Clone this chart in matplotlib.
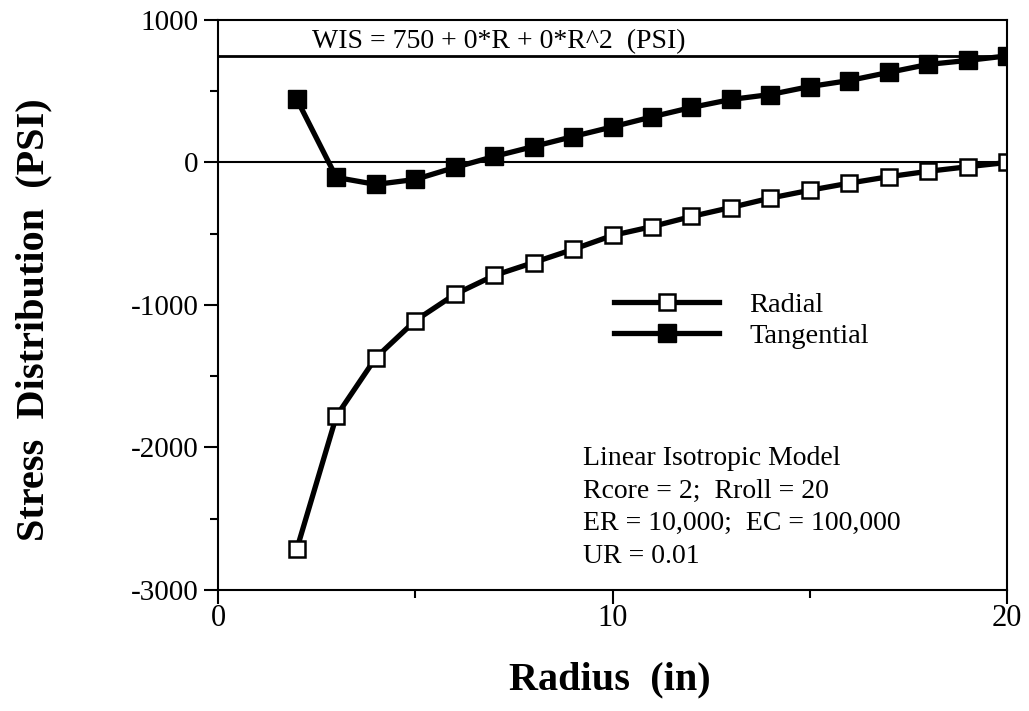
import numpy as np
import matplotlib
matplotlib.use("Agg")
import matplotlib.pyplot as plt
from matplotlib.ticker import MultipleLocator

plt.rcParams["font.family"] = ["Liberation Serif", "DejaVu Serif"]
plt.rcParams["axes.unicode_minus"] = False

radius = np.arange(2, 21)
radial = [-2710, -1780, -1370, -1110, -926, -793, -702, -610, -512,
          -450, -379, -316, -250, -195, -145, -100, -62, -30, 0]
tangential = [442, -105, -154, -119, -35, 42, 112, 182, 250,
              320, 386, 442, 477, 533, 575, 632, 688, 716, 748]

wis = 750
wis_label = "WIS = 750 + 0*R + 0*R^2  (PSI)"
model_text = ("Linear Isotropic Model\n"
              "Rcore = 2;  Rroll = 20\n"
              "ER = 10,000;  EC = 100,000\n"
              "UR = 0.01")

fig = plt.figure(figsize=(10.29, 7.11), dpi=100)
ax = fig.add_axes([0.2119, 0.1702, 0.7667, 0.8017])

ax.axhline(0, color="black", lw=1.5)
ax.axhline(wis, color="black", lw=2)

ax.plot(radius, radial, color="black", lw=3.8, marker="s", ms=12,
        mfc="white", mec="black", mew=1.8, label="Radial")
ax.plot(radius, tangential, color="black", lw=3.8, marker="s", ms=12.5,
        mfc="black", mec="black", label="Tangential")

ax.set_xlim(0, 20)
ax.set_ylim(-3000, 1000)
ax.set_xticks([0, 10, 20])
ax.xaxis.set_minor_locator(MultipleLocator(5))
ax.set_yticks([1000, 0, -1000, -2000, -3000])
ax.yaxis.set_minor_locator(MultipleLocator(500))
ax.tick_params(which="major", direction="out", length=10, width=1.5, pad=5)
ax.tick_params(which="minor", direction="out", length=6, width=1.5)
ax.tick_params(axis="y", labelsize=21, pad=4)
ax.tick_params(axis="x", labelsize=22, pad=0)
for s in ax.spines.values():
    s.set_linewidth(1.5)
    s.set_clip_on(False)

ax.set_xlabel("Radius  (in)", fontsize=29, fontweight="bold", va="top")
ax.xaxis.set_label_coords(0.497, -0.126)
ax.set_ylabel("Stress  Distribution  (PSI)", fontsize=29, fontweight="bold")
ax.yaxis.set_label_coords(-0.21, 0.474)

ax.text(2.38, 850, wis_label, fontsize=20, va="center", ha="left")
ax.text(9.25, -2421, model_text, fontsize=20, va="center", ha="left",
        linespacing=1.4)

ax.legend(loc="upper left", bbox_to_anchor=(614 / 1029, 1 - 292 / 711),
          bbox_transform=fig.transFigure, frameon=False, fontsize=20.5,
          borderpad=0, borderaxespad=0, handlelength=3.7,
          handletextpad=1.05, labelspacing=0.18)

fig.savefig("out.png", dpi=100)
